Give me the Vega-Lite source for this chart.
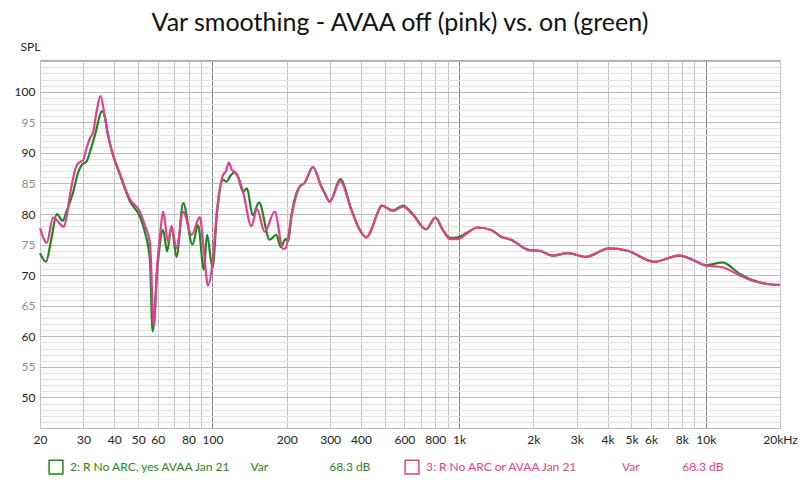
{
"$schema": "https://vega.github.io/schema/vega-lite/v6.json",
"width": 740, "height": 368,
"autosize": {"type": "none"},
"padding": {"left": 40, "top": 60, "right": 20, "bottom": 52},
"background": "white",
"title": {"text": "Var smoothing - AVAA off (pink) vs. on (green)", "font": "Lato", "fontSize": 25, "fontWeight": "normal", "color": "#111", "anchor": "middle", "offset": 4, "dx": -10},
"config": {"view": {"stroke": "#a8a8a8"}, "font": "Lato"},
"data": {"values": [
{"s":"on","f":20,"db":73.6},{"s":"on","f":21.15,"db":72.2},{"s":"on","f":22.2,"db":75.8},{"s":"on","f":23.4,"db":80.0},{"s":"on","f":24.7,"db":78.9},{"s":"on","f":25.65,"db":80.5},{"s":"on","f":27.3,"db":83.7},{"s":"on","f":28.6,"db":86.9},{"s":"on","f":29.5,"db":88.0},{"s":"on","f":30.9,"db":88.6},{"s":"on","f":31.9,"db":90.2},{"s":"on","f":33.4,"db":92.9},{"s":"on","f":35.7,"db":96.8},{"s":"on","f":36.7,"db":95.8},{"s":"on","f":37.7,"db":93.0},{"s":"on","f":39.0,"db":90.5},{"s":"on","f":42.2,"db":86.4},{"s":"on","f":46.3,"db":82.1},{"s":"on","f":50.8,"db":79.6},{"s":"on","f":53.2,"db":77.1},{"s":"on","f":55.8,"db":72.5},{"s":"on","f":57.2,"db":60.8},{"s":"on","f":60.1,"db":72.0},{"s":"on","f":63.1,"db":77.4},{"s":"on","f":65.5,"db":73.9},{"s":"on","f":68.3,"db":78.0},{"s":"on","f":71.5,"db":73.0},{"s":"on","f":76.1,"db":81.8},{"s":"on","f":83.0,"db":75.0},{"s":"on","f":87.5,"db":78.2},{"s":"on","f":92.3,"db":70.9},{"s":"on","f":95.1,"db":76.6},{"s":"on","f":100.1,"db":71.2},{"s":"on","f":104.4,"db":80.2},{"s":"on","f":110.5,"db":85.6},{"s":"on","f":114.0,"db":85.3},{"s":"on","f":118.5,"db":86.3},{"s":"on","f":123.1,"db":86.8},{"s":"on","f":127.0,"db":86.1},{"s":"on","f":133.0,"db":83.7},{"s":"on","f":138.1,"db":84.2},{"s":"on","f":145.6,"db":79.8},{"s":"on","f":154.5,"db":81.9},{"s":"on","f":170.7,"db":75.8},{"s":"on","f":181.7,"db":76.6},{"s":"on","f":189.1,"db":74.6},{"s":"on","f":198.1,"db":75.9},{"s":"on","f":203,"db":75.6},{"s":"on","f":208.9,"db":79.6},{"s":"on","f":225.7,"db":84.5},{"s":"on","f":236.5,"db":85.1},{"s":"on","f":255.6,"db":87.7},{"s":"on","f":276.3,"db":84.5},{"s":"on","f":287.7,"db":83.1},{"s":"on","f":298.6,"db":82.0},{"s":"on","f":330,"db":85.7},{"s":"on","f":365.6,"db":80.8},{"s":"on","f":395,"db":77.5},{"s":"on","f":420,"db":76.2},{"s":"on","f":476,"db":80.9},{"s":"on","f":484,"db":81.4},{"s":"on","f":540,"db":80.6},{"s":"on","f":591,"db":81.4},{"s":"on","f":649,"db":80.0},{"s":"on","f":735,"db":77.5},{"s":"on","f":802,"db":79.4},{"s":"on","f":859,"db":77.4},{"s":"on","f":920,"db":76.1},{"s":"on","f":987,"db":76.2},{"s":"on","f":1080,"db":77.0},{"s":"on","f":1190,"db":77.8},{"s":"on","f":1349,"db":77.4},{"s":"on","f":1480,"db":76.3},{"s":"on","f":1625,"db":75.8},{"s":"on","f":1927,"db":74.1},{"s":"on","f":2116,"db":74.0},{"s":"on","f":2394,"db":73.2},{"s":"on","f":2754,"db":73.6},{"s":"on","f":3270,"db":73.0},{"s":"on","f":4062,"db":74.4},{"s":"on","f":4818,"db":74.0},{"s":"on","f":6180,"db":72.2},{"s":"on","f":7800,"db":73.2},{"s":"on","f":8972,"db":72.4},{"s":"on","f":10006,"db":71.6},{"s":"on","f":11682,"db":72.1},{"s":"on","f":13646,"db":70.3},{"s":"on","f":15452,"db":69.2},{"s":"on","f":17504,"db":68.6},{"s":"on","f":20000,"db":68.4},
{"s":"off","f":20,"db":77.7},{"s":"off","f":21.3,"db":75.3},{"s":"off","f":22.6,"db":79.4},{"s":"off","f":25.0,"db":77.9},{"s":"off","f":25.65,"db":79.6},{"s":"off","f":26.45,"db":83.1},{"s":"off","f":28.2,"db":88.0},{"s":"off","f":29.0,"db":88.5},{"s":"off","f":29.9,"db":88.8},{"s":"off","f":30.9,"db":90.8},{"s":"off","f":31.9,"db":92.4},{"s":"off","f":32.9,"db":93.5},{"s":"off","f":33.9,"db":96.7},{"s":"off","f":35.2,"db":99.3},{"s":"off","f":36.7,"db":95.7},{"s":"off","f":37.7,"db":93.0},{"s":"off","f":39.0,"db":90.5},{"s":"off","f":42.2,"db":86.6},{"s":"off","f":46.3,"db":82.4},{"s":"off","f":50.8,"db":80.4},{"s":"off","f":53.2,"db":78.2},{"s":"off","f":55.8,"db":75.3},{"s":"off","f":57.9,"db":61.6},{"s":"off","f":59.5,"db":70.5},{"s":"off","f":61.3,"db":76.5},{"s":"off","f":63.1,"db":80.4},{"s":"off","f":66.1,"db":75.5},{"s":"off","f":68.3,"db":78.0},{"s":"off","f":71.5,"db":74.4},{"s":"off","f":76.1,"db":80.4},{"s":"off","f":82.3,"db":76.6},{"s":"off","f":88.9,"db":79.5},{"s":"off","f":92.3,"db":74.0},{"s":"off","f":96.0,"db":68.3},{"s":"off","f":100.1,"db":72.0},{"s":"off","f":104.4,"db":80.7},{"s":"off","f":110.5,"db":86.4},{"s":"off","f":113.5,"db":87.0},{"s":"off","f":116.5,"db":88.4},{"s":"off","f":120,"db":87.2},{"s":"off","f":123.1,"db":86.9},{"s":"off","f":127.0,"db":86.1},{"s":"off","f":133.0,"db":83.7},{"s":"off","f":143.9,"db":78.0},{"s":"off","f":151.6,"db":80.8},{"s":"off","f":162.9,"db":77.1},{"s":"off","f":178.9,"db":80.4},{"s":"off","f":193.2,"db":74.3},{"s":"off","f":198.1,"db":74.4},{"s":"off","f":208.9,"db":79.6},{"s":"off","f":225.7,"db":84.5},{"s":"off","f":236.5,"db":85.1},{"s":"off","f":255.6,"db":87.7},{"s":"off","f":276.3,"db":84.5},{"s":"off","f":287.7,"db":83.1},{"s":"off","f":298.6,"db":82.0},{"s":"off","f":330,"db":85.4},{"s":"off","f":365.6,"db":80.7},{"s":"off","f":395,"db":77.4},{"s":"off","f":420,"db":76.2},{"s":"off","f":476,"db":80.9},{"s":"off","f":484,"db":81.4},{"s":"off","f":540,"db":80.5},{"s":"off","f":591,"db":81.2},{"s":"off","f":649,"db":79.9},{"s":"off","f":735,"db":77.5},{"s":"off","f":802,"db":79.4},{"s":"off","f":859,"db":77.4},{"s":"off","f":920,"db":75.9},{"s":"off","f":987,"db":75.9},{"s":"off","f":1080,"db":76.9},{"s":"off","f":1190,"db":77.8},{"s":"off","f":1349,"db":77.4},{"s":"off","f":1480,"db":76.3},{"s":"off","f":1625,"db":75.8},{"s":"off","f":1927,"db":74.1},{"s":"off","f":2116,"db":74.0},{"s":"off","f":2394,"db":73.2},{"s":"off","f":2754,"db":73.6},{"s":"off","f":3270,"db":73.0},{"s":"off","f":4062,"db":74.4},{"s":"off","f":4818,"db":74.0},{"s":"off","f":6180,"db":72.2},{"s":"off","f":7800,"db":73.2},{"s":"off","f":8972,"db":72.4},{"s":"off","f":10006,"db":71.6},{"s":"off","f":11682,"db":71.3},{"s":"off","f":13646,"db":70.0},{"s":"off","f":15452,"db":69.1},{"s":"off","f":17504,"db":68.6},{"s":"off","f":20000,"db":68.4}
]},
"encoding": {
  "x": {"field": "f", "type": "quantitative",
    "scale": {"type": "log", "domain": [20, 20000], "nice": false},
    "axis": {"title": null,
      "values": [20,30,40,50,60,70,80,90,100,200,300,400,500,600,700,800,900,1000,2000,3000,4000,5000,6000,7000,8000,9000,10000,20000],
      "labelExpr": "indexof([20,30,40,50,60,80,100,200,300,400,600,800,1000,2000,3000,4000,5000,6000,8000,10000,20000], datum.value) < 0 ? '' : datum.value == 20000 ? '20kHz' : datum.value >= 1000 ? (datum.value/1000) + 'k' : '' + datum.value",
      "ticks": false, "domain": false, "labelOverlap": false, "labelFlush": false, "labelBound": false,
      "labelFont": "Lato", "labelFontSize": 12, "labelColor": "#222", "labelPadding": 6,
      "gridColor": {"condition": {"test": "datum.value == 100 || datum.value == 1000 || datum.value == 10000", "value": "#808080"}, "value": "#c4c4c4"},
      "gridOpacity": 1, "gridWidth": 1}},
  "y": {"field": "db", "type": "quantitative",
    "scale": {"domain": [45, 105.2], "nice": false, "zero": false},
    "axis": {"title": "SPL", "titleAngle": 0, "titleAlign": "left", "titleBaseline": "bottom", "titleX": -20, "titleY": -7,
      "titleFont": "Lato", "titleFontSize": 12, "titleFontWeight": "normal", "titleColor": "#222",
      "values": [45,46,47,48,49,50,51,52,53,54,55,56,57,58,59,60,61,62,63,64,65,66,67,68,69,70,71,72,73,74,75,76,77,78,79,80,81,82,83,84,85,86,87,88,89,90,91,92,93,94,95,96,97,98,99,100,101,102,103,104,105],
      "labelExpr": "(datum.value % 5 == 0 && datum.value >= 50 && datum.value <= 100) ? '' + datum.value : ''",
      "ticks": false, "domain": false, "labelPadding": 5,
      "labelFont": "Lato", "labelFontSize": 12,
      "labelColor": {"condition": {"test": "datum.value % 10 == 0", "value": "#222"}, "value": "#8c8c8c"},
      "gridColor": {"condition": {"test": "datum.value % 5 == 0", "value": "#bcbcbc"}, "value": "#e2e2e2"},
      "gridOpacity": 1}},
  "color": {"field": "s", "type": "nominal",
    "scale": {"domain": ["on", "off"], "range": ["#1a8a1a", "#e63d8f"]},
    "legend": {"orient": "none", "legendX": 8, "legendY": 399, "direction": "horizontal", "columns": 2, "columnPadding": 29,
      "title": null, "symbolType": "square", "symbolSize": 190, "symbolStrokeWidth": 1.5, "symbolStrokeColor": "#1f6fd1", "symbolFillColor": "white", "labelOffset": 6,
      "labelFont": "Lato", "labelFontSize": 12, "labelLimit": 600,
      "labelExpr": "datum.value == 'on' ? '2: R No ARC, yes AVAA Jan 21\u00a0\u00a0\u00a0\u00a0\u00a0\u00a0\u00a0Var\u00a0\u00a0\u00a0\u00a0\u00a0\u00a0\u00a0\u00a0\u00a0\u00a0\u00a0\u00a0\u00a0\u00a0\u00a0\u00a0\u00a0\u00a0\u00a0\u00a068.3 dB' : '3: R No ARC or AVAA Jan 21\u00a0\u00a0\u00a0\u00a0\u00a0\u00a0\u00a0\u00a0\u00a0\u00a0\u00a0\u00a0\u00a0\u00a0\u00a0Var\u00a0\u00a0\u00a0\u00a0\u00a0\u00a0\u00a0\u00a0\u00a0\u00a0\u00a0\u00a0\u00a0\u00a068.3 dB'",
      "encode": {
        "symbols": {"enter": {"stroke": {"value": "#1f6fd1"}, "fill": {"value": "white"}}, "update": {"stroke": {"value": "#1f6fd1"}, "fill": {"value": "white"}, "strokeWidth": {"value": 1.5}}},
        "labels": {"update": {"fill": {"signal": "datum.value == 'on' ? '#1a8a1a' : '#e63d8f'"}}}
      }}}
},
"layer": [
  {"transform": [{"filter": "datum.s == 'on'"}], "mark": {"type": "line", "interpolate": "monotone", "strokeWidth": 2.2}},
  {"transform": [{"filter": "datum.s == 'off'"}], "mark": {"type": "line", "interpolate": "monotone", "strokeWidth": 2.2}}
]
}
